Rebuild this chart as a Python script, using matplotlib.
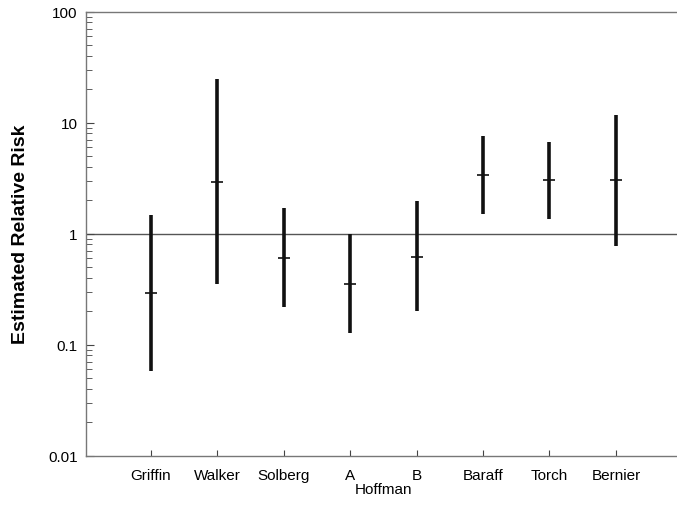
import numpy as np
import matplotlib.pyplot as plt
from matplotlib.ticker import LogLocator, NullFormatter, FixedLocator

# Данные: исследования, оценки и доверительные интервалы
studies = ['Griffin', 'Walker', 'Solberg', 'A', 'B', 'Baraff', 'Torch', 'Bernier']
estimate = [0.29, 2.95, 0.61, 0.35, 0.62, 3.4, 3.07, 3.07]
lower = [0.058, 0.35, 0.22, 0.128, 0.20, 1.51, 1.37, 0.78]
upper = [1.48, 24.9, 1.71, 1.0, 1.98, 7.6, 6.75, 11.8]
y_ticks = [0.01, 0.1, 1, 10, 100]
y_tick_labels = ['0.01', '0.1', '1', '10', '100']

plt.rcParams['font.family'] = ['Liberation Sans', 'DejaVu Sans']

fig = plt.figure(figsize=(6.77, 5.06), dpi=100)
ax = fig.add_axes([0.127, 0.0974, 0.873, 0.8776])

x = np.arange(1, len(studies) + 1)

# Линия отсчёта на уровне 1
ax.axhline(1, color='#555555', lw=1.0, zorder=1)

# Вертикальные интервалы и оценки
ax.vlines(x, lower, upper, color='#111111', lw=2.6, zorder=3)
ax.plot(x, estimate, ls='none', marker='_', ms=9, mew=1.2, color='#111111', zorder=4)

ax.set_yscale('log')
ax.set_ylim(0.01, 100)
ax.set_xlim(0.02, 8.92)

ax.yaxis.set_major_locator(FixedLocator(y_ticks))
ax.set_yticklabels(y_tick_labels)
ax.yaxis.set_minor_locator(LogLocator(base=10, subs=np.arange(2, 10)))
ax.yaxis.set_minor_formatter(NullFormatter())

ax.set_xticks(x)
ax.set_xticklabels(studies)

ax.tick_params(axis='y', which='major', direction='in', length=6, width=0.8,
               labelsize=11, color='#444444', pad=6)
ax.tick_params(axis='y', which='minor', direction='in', length=4, width=0.6, color='#444444')
ax.tick_params(axis='x', which='major', direction='in', length=4, width=0.8,
               labelsize=11, color='#444444', pad=9)

for side in ['left', 'top', 'bottom']:
    ax.spines[side].set_color('#777777')
    ax.spines[side].set_linewidth(1.0)
ax.spines['right'].set_visible(False)

ax.set_ylabel('Estimated Relative Risk', fontsize=14, fontweight='bold', labelpad=14)

# Подпись группы Hoffman под A и B
ax.text(4.5, -0.075, 'Hoffman', transform=ax.get_xaxis_transform(),
        ha='center', va='center', fontsize=11)

fig.savefig('out.png', dpi=100)
